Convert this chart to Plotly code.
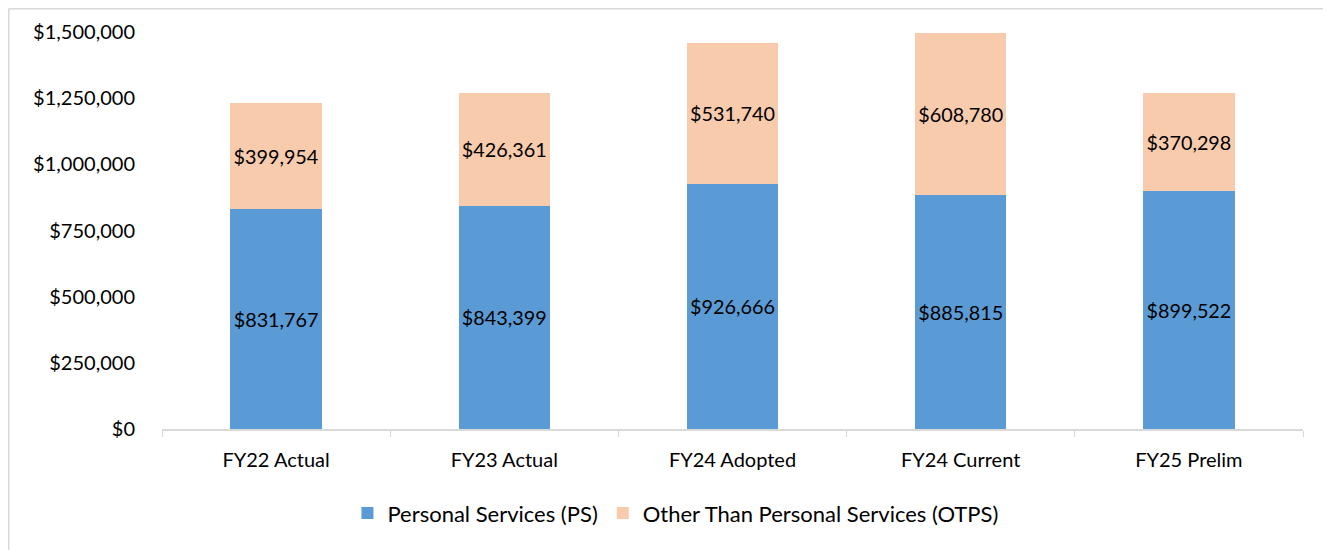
import plotly.graph_objects as go

categories = ["FY22 Actual", "FY23 Actual", "FY24 Adopted", "FY24 Current", "FY25 Prelim"]
ps_values = [831767, 843399, 926666, 885815, 899522]
otps_values = [399954, 426361, 531740, 608780, 370298]
y_ticks = [0, 250000, 500000, 750000, 1000000, 1250000, 1500000]

FONT = "Lato"

fig = go.Figure()
fig.add_trace(
    go.Bar(
        x=categories,
        y=ps_values,
        name="Personal Services (PS)",
        marker=dict(color="#5B9BD5", line=dict(width=0)),
        text=[f"${v:,.0f}" for v in ps_values],
        textposition="inside",
        insidetextanchor="middle",
        textangle=0,
        textfont=dict(color="black", size=20, family=FONT),
    )
)
fig.add_trace(
    go.Bar(
        x=categories,
        y=otps_values,
        name="Other Than Personal Services (OTPS)",
        marker=dict(color="#F8CBAD", line=dict(width=0)),
        text=[f"${v:,.0f}" for v in otps_values],
        textposition="inside",
        insidetextanchor="middle",
        textangle=0,
        textfont=dict(color="black", size=20, family=FONT),
    )
)

# chart frame edges (top and left), the rest is cut off in the original
fig.add_shape(type="line", xref="paper", yref="paper", x0=-0.1343, x1=1.03, y0=1.0586, y1=1.0586,
              line=dict(color="#d9d9d9", width=1.5))
fig.add_shape(type="line", xref="paper", yref="paper", x0=-0.1343, x1=-0.1343, y0=1.0586, y1=-0.31,
              line=dict(color="#d9d9d9", width=1.5))

# page body has an 8px margin, so the figure is sized to fill the rest of the window
fig.update_layout(
    barmode="stack",
    bargap=0.6,
    width=1323,
    height=542,
    margin=dict(l=154, r=28, t=24, b=121),
    plot_bgcolor="white",
    paper_bgcolor="white",
    font=dict(family=FONT, size=20, color="black"),
    uniformtext=dict(mode="show", minsize=10),
    legend=dict(
        orientation="h",
        x=0.45,
        xanchor="center",
        y=-0.212,
        yanchor="middle",
        font=dict(size=22, family=FONT),
        traceorder="normal",
    ),
    xaxis=dict(
        showline=True,
        linecolor="#d9d9d9",
        linewidth=1.5,
        ticks="outside",
        tickson="boundaries",
        tickcolor="#d9d9d9",
        ticklen=6,
        ticklabelstandoff=12,
        showgrid=False,
        tickfont=dict(size=20),
    ),
    yaxis=dict(
        range=[0, 1500000],
        tickvals=y_ticks,
        ticktext=[f"${v:,.0f}" for v in y_ticks],
        showgrid=False,
        zeroline=False,
        showline=False,
        ticks="",
        ticklabelstandoff=26,
        tickfont=dict(size=20),
    ),
)

fig.write_html("out.html")
